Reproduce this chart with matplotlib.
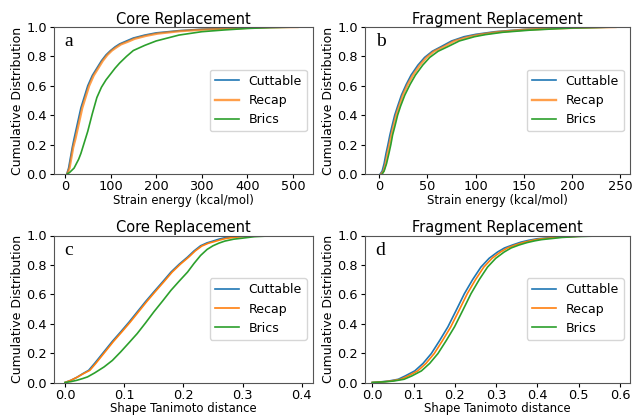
import matplotlib
matplotlib.use("Agg")
import matplotlib.pyplot as plt

series_names = ["Cuttable", "Recap", "Brics"]
colors = ["#1f77b4", "#ff7f0e", "#2ca02c"]

# Panel a: Core replacement, strain energy (kcal/mol)
a_cut_x = [4, 8, 12, 16, 20, 25, 30, 35, 40, 45, 50, 60, 70, 80, 90, 100, 110, 120, 135, 150, 175, 200, 250, 300, 350, 400, 450, 510]
a_cut_y = [0, 0.04, 0.11, 0.18, 0.24, 0.31, 0.38, 0.45, 0.50, 0.55, 0.60, 0.67, 0.72, 0.77, 0.81, 0.84, 0.865, 0.885, 0.905, 0.925, 0.945, 0.96, 0.975, 0.985, 0.99, 0.995, 0.998, 1.0]
a_rec_x = [5, 10, 14, 18, 23, 28, 33, 38, 43, 48, 53, 63, 73, 83, 93, 103, 113, 123, 138, 153, 178, 203, 253, 303, 353, 400, 450, 510]
a_rec_y = [0, 0.04, 0.11, 0.18, 0.24, 0.31, 0.38, 0.45, 0.50, 0.55, 0.60, 0.67, 0.72, 0.77, 0.81, 0.84, 0.862, 0.882, 0.90, 0.92, 0.94, 0.955, 0.972, 0.982, 0.988, 0.994, 0.998, 1.0]
a_bri_x = [5, 10, 15, 20, 25, 30, 35, 40, 45, 50, 60, 70, 80, 90, 100, 110, 120, 135, 150, 175, 200, 250, 300, 350, 400, 450, 510]
a_bri_y = [0, 0.01, 0.025, 0.04, 0.07, 0.10, 0.14, 0.19, 0.24, 0.29, 0.41, 0.52, 0.59, 0.64, 0.68, 0.72, 0.755, 0.80, 0.84, 0.875, 0.905, 0.945, 0.968, 0.98, 0.99, 0.996, 1.0]

# Panel b: Fragment replacement, strain energy (kcal/mol)
b_cut_x = [1, 3, 5, 7, 9, 11, 13, 16, 19, 23, 28, 33, 40, 47, 55, 64, 75, 88, 100, 120, 150, 175, 200, 245]
b_cut_y = [0, 0.02, 0.07, 0.14, 0.20, 0.265, 0.32, 0.40, 0.46, 0.537, 0.61, 0.673, 0.74, 0.793, 0.835, 0.866, 0.905, 0.934, 0.95, 0.968, 0.984, 0.99, 0.995, 1.0]
b_rec_x = [2, 4.5, 6.5, 8.5, 10.5, 12.5, 14.5, 17.5, 20.5, 24.5, 29.5, 35, 42, 49, 57, 67, 78, 92, 104, 123, 152, 176, 200, 245]
b_rec_y = [0, 0.02, 0.07, 0.14, 0.20, 0.265, 0.32, 0.40, 0.46, 0.537, 0.61, 0.673, 0.74, 0.793, 0.835, 0.866, 0.905, 0.932, 0.948, 0.966, 0.982, 0.989, 0.994, 1.0]
b_bri_x = [3, 5, 7.5, 10, 12, 13.8, 16, 19, 22, 26.5, 32, 37.5, 45, 52.3, 61, 71, 83, 98.7, 110, 128, 155, 178, 200, 245]
b_bri_y = [0, 0.02, 0.07, 0.14, 0.20, 0.265, 0.32, 0.40, 0.46, 0.537, 0.61, 0.673, 0.74, 0.793, 0.835, 0.866, 0.905, 0.934, 0.948, 0.964, 0.978, 0.986, 0.993, 1.0]

# Panel c: Core replacement, shape Tanimoto distance
c_cut_x = [0, 0.01, 0.02, 0.03, 0.04, 0.05, 0.066, 0.08, 0.094, 0.108, 0.122, 0.136, 0.150, 0.165, 0.179, 0.193, 0.207, 0.218, 0.229, 0.24, 0.25, 0.26, 0.27, 0.285, 0.30, 0.32, 0.35, 0.40]
c_cut_y = [0, 0.015, 0.035, 0.06, 0.083, 0.13, 0.21, 0.28, 0.344, 0.41, 0.48, 0.55, 0.616, 0.685, 0.751, 0.805, 0.853, 0.895, 0.93, 0.95, 0.962, 0.975, 0.985, 0.992, 0.996, 0.999, 1.0, 1.0]
c_rec_x = [0, 0.01, 0.02, 0.031, 0.042, 0.052, 0.068, 0.082, 0.096, 0.110, 0.124, 0.138, 0.152, 0.167, 0.181, 0.195, 0.209, 0.220, 0.231, 0.242, 0.252, 0.262, 0.272, 0.287, 0.302, 0.322, 0.352, 0.40]
c_rec_y = [0, 0.015, 0.035, 0.06, 0.083, 0.13, 0.21, 0.28, 0.344, 0.41, 0.48, 0.55, 0.616, 0.685, 0.751, 0.805, 0.853, 0.895, 0.928, 0.947, 0.958, 0.97, 0.98, 0.988, 0.993, 0.998, 1.0, 1.0]
c_bri_x = [0, 0.01, 0.02, 0.03, 0.038, 0.05, 0.066, 0.08, 0.094, 0.108, 0.122, 0.136, 0.150, 0.165, 0.179, 0.193, 0.207, 0.218, 0.229, 0.24, 0.25, 0.26, 0.27, 0.285, 0.30, 0.32, 0.35, 0.40]
c_bri_y = [0, 0.006, 0.015, 0.027, 0.038, 0.065, 0.106, 0.15, 0.208, 0.27, 0.333, 0.405, 0.48, 0.555, 0.627, 0.69, 0.751, 0.81, 0.864, 0.905, 0.93, 0.948, 0.962, 0.975, 0.982, 0.992, 0.998, 1.0]

# Panel d: Fragment replacement, shape Tanimoto distance
d_cut_x = [0, 0.023, 0.04, 0.063, 0.08, 0.103, 0.123, 0.143, 0.163, 0.183, 0.203, 0.223, 0.243, 0.263, 0.283, 0.303, 0.32, 0.339, 0.36, 0.38, 0.40, 0.45, 0.50, 0.59]
d_cut_y = [0, 0.005, 0.01, 0.022, 0.045, 0.079, 0.13, 0.197, 0.285, 0.378, 0.49, 0.604, 0.70, 0.785, 0.845, 0.887, 0.915, 0.935, 0.955, 0.968, 0.978, 0.99, 0.996, 1.0]
d_rec_x = [0, 0.027, 0.045, 0.069, 0.087, 0.110, 0.130, 0.150, 0.170, 0.190, 0.210, 0.230, 0.250, 0.270, 0.290, 0.310, 0.327, 0.346, 0.366, 0.386, 0.405, 0.455, 0.50, 0.59]
d_rec_y = [0, 0.005, 0.01, 0.022, 0.045, 0.079, 0.13, 0.197, 0.285, 0.378, 0.49, 0.604, 0.70, 0.785, 0.845, 0.887, 0.915, 0.935, 0.953, 0.966, 0.976, 0.989, 0.995, 1.0]
d_bri_x = [0, 0.032, 0.052, 0.077, 0.096, 0.119, 0.139, 0.159, 0.179, 0.199, 0.219, 0.239, 0.259, 0.279, 0.299, 0.319, 0.336, 0.355, 0.375, 0.394, 0.41, 0.46, 0.50, 0.59]
d_bri_y = [0, 0.005, 0.01, 0.022, 0.045, 0.079, 0.13, 0.197, 0.285, 0.378, 0.49, 0.604, 0.70, 0.785, 0.845, 0.887, 0.915, 0.935, 0.952, 0.964, 0.972, 0.987, 0.993, 1.0]

panels = [
    dict(letter="a", title="Core Replacement", xlabel="Strain energy (kcal/mol)",
         data=[(a_cut_x, a_cut_y), (a_rec_x, a_rec_y), (a_bri_x, a_bri_y)],
         xlim=(-24, 544), xticks=[0, 100, 200, 300, 400, 500], fmt="{:.0f}",
         pos=[54, 27, 313, 174], thick_orange=True, label_top=194),
    dict(letter="b", title="Fragment Replacement", xlabel="Strain energy (kcal/mol)",
         data=[(b_cut_x, b_cut_y), (b_rec_x, b_rec_y), (b_bri_x, b_bri_y)],
         xlim=(-14.8, 260), xticks=[0, 50, 100, 150, 200, 250], fmt="{:.0f}",
         pos=[365, 27, 630, 174], thick_orange=True, label_top=194),
    dict(letter="c", title="Core Replacement", xlabel="Shape Tanimoto distance",
         data=[(c_cut_x, c_cut_y), (c_rec_x, c_rec_y), (c_bri_x, c_bri_y)],
         xlim=(-0.0186, 0.419), xticks=[0.0, 0.1, 0.2, 0.3, 0.4], fmt="{:.1f}",
         pos=[54, 235.5, 313, 382.5], thick_orange=False, label_top=402.3),
    dict(letter="d", title="Fragment Replacement", xlabel="Shape Tanimoto distance",
         data=[(d_cut_x, d_cut_y), (d_rec_x, d_rec_y), (d_bri_x, d_bri_y)],
         xlim=(-0.0176, 0.624), xticks=[0.0, 0.1, 0.2, 0.3, 0.4, 0.5, 0.6], fmt="{:.1f}",
         pos=[365, 235.5, 630, 382.5], thick_orange=False, label_top=402.3),
]

W, H = 633, 416
fig = plt.figure(figsize=(W / 100, H / 100), dpi=100)

for p in panels:
    l, t, r, b = p["pos"]
    ax = fig.add_axes([l / W, 1 - b / H, (r - l) / W, (b - t) / H])
    for i, (xs, ys) in enumerate(p["data"]):
        lw = 1.2
        alpha = 1.0
        if i == 1 and p["thick_orange"]:
            lw = 1.7
            alpha = 0.75
        ax.plot(xs, ys, color=colors[i], lw=lw, alpha=alpha, label=series_names[i],
                solid_joinstyle="round")
    ax.set_xlim(*p["xlim"])
    ax.set_ylim(0, 1.0)
    ax.set_xticks(p["xticks"])
    ax.set_xticklabels([p["fmt"].format(v) for v in p["xticks"]])
    ax.set_yticks([0, 0.2, 0.4, 0.6, 0.8, 1.0])
    ax.set_yticklabels(["0.0", "0.2", "0.4", "0.6", "0.8", "1.0"])
    ax.tick_params(labelsize=9.3, length=3, width=0.8, pad=1.5)
    ax.tick_params(axis="y", pad=2)
    ax.set_title(p["title"], fontsize=10.5, pad=2)
    ax.set_xlabel(p["xlabel"], fontsize=8.4)
    ax.xaxis.set_label_coords(0.5, -(p["label_top"] - b) / (b - t))
    ax.set_ylabel("Cumulative Distribution", fontsize=9, labelpad=2)
    for s in ax.spines.values():
        s.set_color("#555555")
        s.set_linewidth(0.8)
    ax.text(0.04, 0.9, p["letter"], transform=ax.transAxes, fontsize=14,
            family="Liberation Serif", ha="left", va="center")
    ax.legend(loc="center right", fontsize=9, handlelength=1.9,
              borderaxespad=0.5, framealpha=0.8)

fig.savefig("out.png", dpi=100)
